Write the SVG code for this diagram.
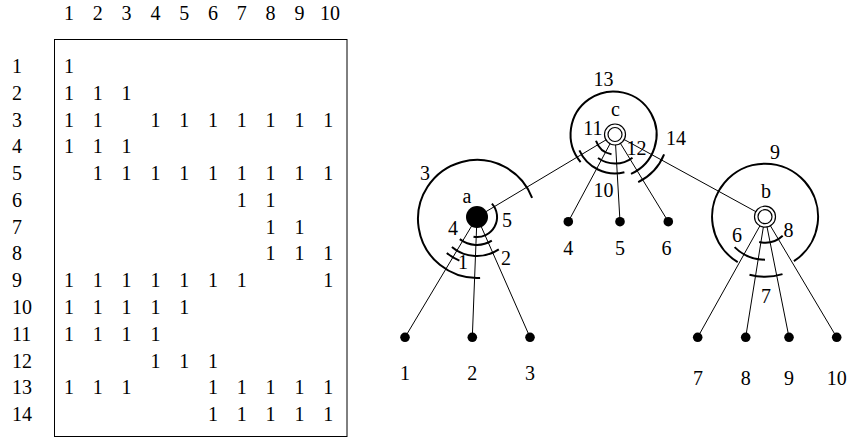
<svg xmlns="http://www.w3.org/2000/svg" width="851" height="438" viewBox="0 0 851 438">
<style>
text{font-family:"Liberation Serif","Times New Roman",serif;font-size:20px;fill:#000}
.mid{text-anchor:middle}
.edge{stroke:#000;stroke-width:1;fill:none}
.cut{stroke:#000;stroke-width:2;fill:none}
.leaf{fill:#000}
.ring{fill:#fff;stroke:#000;stroke-width:1.2}
</style>
<rect width="851" height="438" fill="#fff"/>
<g id="matrix">
<rect x="54.5" y="39.5" width="292.5" height="397" fill="none" stroke="#000" stroke-width="1"/>
<text x="64 92.8 121.6 150.4 179.2 208 236.8 265.6 294.4" y="20">123456789</text>
<text x="330" y="20" class="mid">10</text>
<text x="12" y="73">1</text>
<text x="12" y="99.8">2</text>
<text x="12" y="126.5">3</text>
<text x="12" y="153.3">4</text>
<text x="12" y="180.1">5</text>
<text x="12" y="206.9">6</text>
<text x="12" y="233.6">7</text>
<text x="12" y="260.4">8</text>
<text x="12" y="287.2">9</text>
<text x="12" y="313.9">10</text>
<text x="12" y="340.7">11</text>
<text x="12" y="367.5">12</text>
<text x="12" y="394.2">13</text>
<text x="12" y="421">14</text>
<text x="64" y="73">1</text>
<text x="64 92.8 121.6" y="99.8">111</text>
<text x="64 92.8 150.4 179.2 208 236.8 265.6 294.4 323.2" y="126.5">111111111</text>
<text x="64 92.8 121.6" y="153.3">111</text>
<text x="92.8 121.6 150.4 179.2 208 236.8 265.6 294.4 323.2" y="180.1">111111111</text>
<text x="236.8 265.6" y="206.9">11</text>
<text x="265.6 294.4" y="233.6">11</text>
<text x="265.6 294.4 323.2" y="260.4">111</text>
<text x="64 92.8 121.6 150.4 179.2 208 236.8 323.2" y="287.2">11111111</text>
<text x="64 92.8 121.6 150.4 179.2" y="313.9">11111</text>
<text x="64 92.8 121.6 150.4" y="340.7">1111</text>
<text x="150.4 179.2 208" y="367.5">111</text>
<text x="64 92.8 121.6 208 236.8 265.6 294.4 323.2" y="394.2">11111111</text>
<text x="208 236.8 265.6 294.4 323.2" y="421">11111</text>
</g>
<g id="connectors">
<line class="edge" x1="477" y1="217" x2="615" y2="134.5"/>
<line class="edge" x1="615" y1="134.5" x2="765" y2="216.7"/>
<line class="edge" x1="477" y1="217" x2="405" y2="337.3"/>
<line class="edge" x1="477" y1="217" x2="472.3" y2="337.3"/>
<line class="edge" x1="477" y1="217" x2="530" y2="337.3"/>
<line class="edge" x1="615" y1="134.5" x2="568.3" y2="221.7"/>
<line class="edge" x1="615" y1="134.5" x2="620" y2="221.7"/>
<line class="edge" x1="615" y1="134.5" x2="668.3" y2="221.7"/>
<line class="edge" x1="765" y1="216.7" x2="697.7" y2="337.3"/>
<line class="edge" x1="765" y1="216.7" x2="745.7" y2="337.3"/>
<line class="edge" x1="765" y1="216.7" x2="789" y2="337.3"/>
<line class="edge" x1="765" y1="216.7" x2="836.7" y2="337.3"/>
</g>
<g id="cuts">
<path class="cut" d="M480.1 277.9 A59 59 0 1 1 532.1 197.9"/>
<path class="cut" d="M491.9 203.6 A20 20 0 0 1 473.5 236.7"/>
<path class="cut" d="M491.8 240.7 A28 28 0 0 1 459.8 239.1"/>
<path class="cut" d="M498.8 249.3 A39 39 0 0 1 451.9 246.9"/>
<path class="cut" d="M459.4 260.6 A47 47 0 0 1 446.8 253.0"/>
<path class="cut" d="M580.6 162.1 A43 43 0 1 1 631.0 173.8"/>
<path class="cut" d="M611.5 154.2 A20 20 0 0 1 596.0 140.7"/>
<path class="cut" d="M632.5 157.7 A29 29 0 0 1 598.0 158.0"/>
<path class="cut" d="M624.4 172.3 A39 39 0 0 1 579.4 150.4"/>
<path class="cut" d="M664.1 154.4 A53 53 0 0 1 638.2 182.1"/>
<path class="cut" d="M737.7 262.1 A53 53 0 1 1 793.9 261.2"/>
<path class="cut" d="M765 259.7 A43 43 0 0 1 734.6 247.1"/>
<path class="cut" d="M782.7 235.7 A26 26 0 0 1 759.2 242.0"/>
<path class="cut" d="M782.5 274.1 A60 60 0 0 1 749.5 274.7"/>
<text x="425" y="180" class="mid">3</text>
<text x="507" y="227" class="mid">5</text>
<text x="453" y="235" class="mid">4</text>
<text x="506" y="265" class="mid">2</text>
<text x="463" y="269" class="mid">1</text>
<text x="603.5" y="86" class="mid">13</text>
<text x="593" y="135" class="mid">11</text>
<text x="636.5" y="155" class="mid">12</text>
<text x="603.5" y="197" class="mid">10</text>
<text x="676" y="145" class="mid">14</text>
<text x="775" y="159" class="mid">9</text>
<text x="737" y="242" class="mid">6</text>
<text x="788.5" y="237" class="mid">8</text>
<text x="766" y="303" class="mid">7</text>
</g>
<g id="node-a">
<circle cx="477" cy="217" r="11" fill="#000"/>
<text x="467" y="203" class="mid">a</text>
</g>
<g id="node-c">
<circle class="ring" cx="615" cy="134.5" r="10.5"/>
<circle class="ring" cx="615" cy="134.5" r="7"/>
<text x="615.5" y="116" class="mid">c</text>
</g>
<g id="node-b">
<circle class="ring" cx="765" cy="216.7" r="10.5"/>
<circle class="ring" cx="765" cy="216.7" r="7"/>
<text x="766" y="198" class="mid">b</text>
</g>
<g id="leaf-1"><circle class="leaf" cx="405" cy="337.3" r="4.8"/><text x="405" y="380" class="mid">1</text></g>
<g id="leaf-2"><circle class="leaf" cx="472.3" cy="337.3" r="4.8"/><text x="472.3" y="380" class="mid">2</text></g>
<g id="leaf-3"><circle class="leaf" cx="530" cy="337.3" r="4.8"/><text x="530" y="380" class="mid">3</text></g>
<g id="leaf-4"><circle class="leaf" cx="568.3" cy="221.7" r="4.8"/><text x="568.3" y="255" class="mid">4</text></g>
<g id="leaf-5"><circle class="leaf" cx="620" cy="221.7" r="4.8"/><text x="620" y="255" class="mid">5</text></g>
<g id="leaf-6"><circle class="leaf" cx="668.3" cy="221.7" r="4.8"/><text x="666.5" y="255" class="mid">6</text></g>
<g id="leaf-7"><circle class="leaf" cx="697.7" cy="337.3" r="4.8"/><text x="698" y="385" class="mid">7</text></g>
<g id="leaf-8"><circle class="leaf" cx="745.7" cy="337.3" r="4.8"/><text x="745.7" y="385" class="mid">8</text></g>
<g id="leaf-9"><circle class="leaf" cx="789" cy="337.3" r="4.8"/><text x="789" y="385" class="mid">9</text></g>
<g id="leaf-10"><circle class="leaf" cx="836.7" cy="337.3" r="4.8"/><text x="836.7" y="385" class="mid">10</text></g>
</svg>
